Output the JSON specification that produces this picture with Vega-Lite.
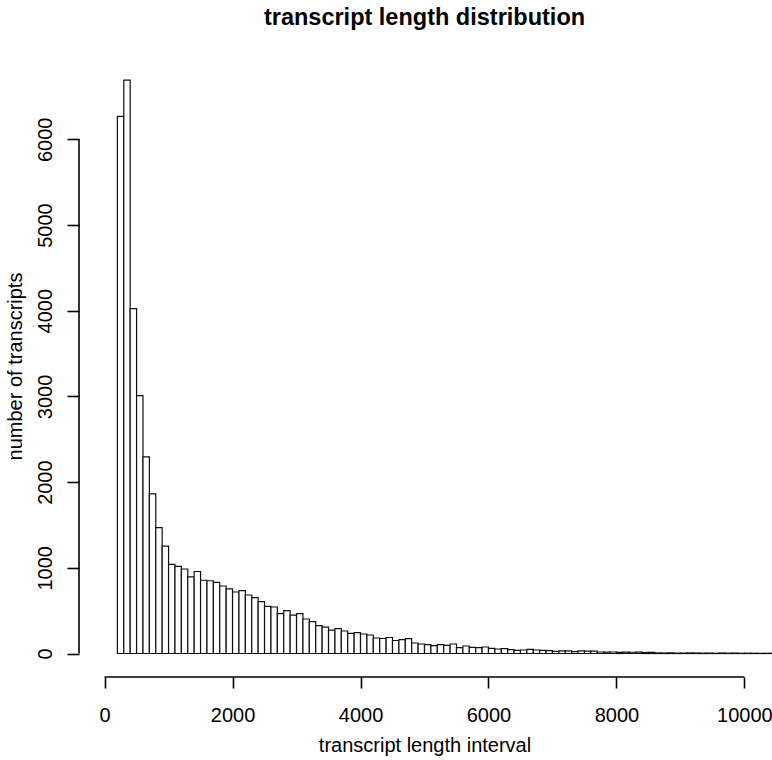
{
  "$schema": "https://vega.github.io/schema/vega-lite/v6.json",
  "autosize": {"type": "none"},
  "padding": {"left": 79, "top": 55, "right": 2, "bottom": 83},
  "width": 691,
  "height": 622,
  "background": "white",
  "config": {"view": {"stroke": null}, "font": "Liberation Sans"},
  "title": {"text": "transcript length distribution", "font": "Liberation Sans", "fontSize": 23.5, "fontWeight": "bold", "color": "black", "anchor": "middle", "frame": "group", "offset": 26},
  "datasets": {
    "bins": [
      {"bin_start": 200, "bin_end": 300, "count": 6267},
      {"bin_start": 300, "bin_end": 400, "count": 6691},
      {"bin_start": 400, "bin_end": 500, "count": 4024},
      {"bin_start": 500, "bin_end": 600, "count": 3010},
      {"bin_start": 600, "bin_end": 700, "count": 2295},
      {"bin_start": 700, "bin_end": 800, "count": 1862},
      {"bin_start": 800, "bin_end": 900, "count": 1469},
      {"bin_start": 900, "bin_end": 1000, "count": 1252},
      {"bin_start": 1000, "bin_end": 1100, "count": 1040},
      {"bin_start": 1100, "bin_end": 1200, "count": 1017},
      {"bin_start": 1200, "bin_end": 1300, "count": 986},
      {"bin_start": 1300, "bin_end": 1400, "count": 895},
      {"bin_start": 1400, "bin_end": 1500, "count": 957},
      {"bin_start": 1500, "bin_end": 1600, "count": 855},
      {"bin_start": 1600, "bin_end": 1700, "count": 849},
      {"bin_start": 1700, "bin_end": 1800, "count": 829},
      {"bin_start": 1800, "bin_end": 1900, "count": 788},
      {"bin_start": 1900, "bin_end": 2000, "count": 755},
      {"bin_start": 2000, "bin_end": 2100, "count": 718},
      {"bin_start": 2100, "bin_end": 2200, "count": 733},
      {"bin_start": 2200, "bin_end": 2300, "count": 683},
      {"bin_start": 2300, "bin_end": 2400, "count": 652},
      {"bin_start": 2400, "bin_end": 2500, "count": 605},
      {"bin_start": 2500, "bin_end": 2600, "count": 551},
      {"bin_start": 2600, "bin_end": 2700, "count": 543},
      {"bin_start": 2700, "bin_end": 2800, "count": 465},
      {"bin_start": 2800, "bin_end": 2900, "count": 500},
      {"bin_start": 2900, "bin_end": 3000, "count": 449},
      {"bin_start": 3000, "bin_end": 3100, "count": 465},
      {"bin_start": 3100, "bin_end": 3200, "count": 403},
      {"bin_start": 3200, "bin_end": 3300, "count": 372},
      {"bin_start": 3300, "bin_end": 3400, "count": 325},
      {"bin_start": 3400, "bin_end": 3500, "count": 309},
      {"bin_start": 3500, "bin_end": 3600, "count": 274},
      {"bin_start": 3600, "bin_end": 3700, "count": 290},
      {"bin_start": 3700, "bin_end": 3800, "count": 263},
      {"bin_start": 3800, "bin_end": 3900, "count": 235},
      {"bin_start": 3900, "bin_end": 4000, "count": 243},
      {"bin_start": 4000, "bin_end": 4100, "count": 228},
      {"bin_start": 4100, "bin_end": 4200, "count": 216},
      {"bin_start": 4200, "bin_end": 4300, "count": 181},
      {"bin_start": 4300, "bin_end": 4400, "count": 175},
      {"bin_start": 4400, "bin_end": 4500, "count": 187},
      {"bin_start": 4500, "bin_end": 4600, "count": 152},
      {"bin_start": 4600, "bin_end": 4700, "count": 161},
      {"bin_start": 4700, "bin_end": 4800, "count": 173},
      {"bin_start": 4800, "bin_end": 4900, "count": 123},
      {"bin_start": 4900, "bin_end": 5000, "count": 111},
      {"bin_start": 5000, "bin_end": 5100, "count": 103},
      {"bin_start": 5100, "bin_end": 5200, "count": 91},
      {"bin_start": 5200, "bin_end": 5300, "count": 103},
      {"bin_start": 5300, "bin_end": 5400, "count": 95},
      {"bin_start": 5400, "bin_end": 5500, "count": 111},
      {"bin_start": 5500, "bin_end": 5600, "count": 68},
      {"bin_start": 5600, "bin_end": 5700, "count": 88},
      {"bin_start": 5700, "bin_end": 5800, "count": 72},
      {"bin_start": 5800, "bin_end": 5900, "count": 68},
      {"bin_start": 5900, "bin_end": 6000, "count": 76},
      {"bin_start": 6000, "bin_end": 6100, "count": 60},
      {"bin_start": 6100, "bin_end": 6200, "count": 53},
      {"bin_start": 6200, "bin_end": 6300, "count": 56},
      {"bin_start": 6300, "bin_end": 6400, "count": 45},
      {"bin_start": 6400, "bin_end": 6500, "count": 37},
      {"bin_start": 6500, "bin_end": 6600, "count": 41},
      {"bin_start": 6600, "bin_end": 6700, "count": 49},
      {"bin_start": 6700, "bin_end": 6800, "count": 41},
      {"bin_start": 6800, "bin_end": 6900, "count": 37},
      {"bin_start": 6900, "bin_end": 7000, "count": 33},
      {"bin_start": 7000, "bin_end": 7100, "count": 25},
      {"bin_start": 7100, "bin_end": 7200, "count": 30},
      {"bin_start": 7200, "bin_end": 7300, "count": 30},
      {"bin_start": 7300, "bin_end": 7400, "count": 22},
      {"bin_start": 7400, "bin_end": 7500, "count": 30},
      {"bin_start": 7500, "bin_end": 7600, "count": 28},
      {"bin_start": 7600, "bin_end": 7700, "count": 27},
      {"bin_start": 7700, "bin_end": 7800, "count": 18},
      {"bin_start": 7800, "bin_end": 7900, "count": 16},
      {"bin_start": 7900, "bin_end": 8000, "count": 18},
      {"bin_start": 8000, "bin_end": 8100, "count": 14},
      {"bin_start": 8100, "bin_end": 8200, "count": 16},
      {"bin_start": 8200, "bin_end": 8300, "count": 15},
      {"bin_start": 8300, "bin_end": 8400, "count": 16},
      {"bin_start": 8400, "bin_end": 8500, "count": 12},
      {"bin_start": 8500, "bin_end": 8600, "count": 14},
      {"bin_start": 8600, "bin_end": 8700, "count": 7},
      {"bin_start": 8700, "bin_end": 8800, "count": 6},
      {"bin_start": 8800, "bin_end": 8900, "count": 8},
      {"bin_start": 8900, "bin_end": 9000, "count": 4},
      {"bin_start": 9000, "bin_end": 9100, "count": 5},
      {"bin_start": 9100, "bin_end": 9200, "count": 7},
      {"bin_start": 9200, "bin_end": 9300, "count": 6},
      {"bin_start": 9300, "bin_end": 9400, "count": 4},
      {"bin_start": 9400, "bin_end": 9500, "count": 5},
      {"bin_start": 9500, "bin_end": 9600, "count": 3},
      {"bin_start": 9600, "bin_end": 9700, "count": 6},
      {"bin_start": 9700, "bin_end": 9800, "count": 4},
      {"bin_start": 9800, "bin_end": 9900, "count": 5},
      {"bin_start": 9900, "bin_end": 10000, "count": 3},
      {"bin_start": 10000, "bin_end": 10100, "count": 4},
      {"bin_start": 10100, "bin_end": 10200, "count": 3},
      {"bin_start": 10200, "bin_end": 10300, "count": 2},
      {"bin_start": 10300, "bin_end": 10400, "count": 3},
      {"bin_start": 10400, "bin_end": 10500, "count": 2}
    ]
  },
  "layer": [
    {
      "data": {"name": "bins"},
      "mark": {"type": "bar", "fill": "white", "stroke": "#111111", "strokeWidth": 1.2, "clip": false},
      "encoding": {
        "x": {
          "field": "bin_start", "type": "quantitative",
          "scale": {"domain": [-400, 10400], "nice": false, "zero": false},
          "axis": {
            "values": [0, 2000, 4000, 6000, 8000, 10000], "format": "d",
            "domain": false, "grid": false,
            "tickSize": 11, "tickWidth": 1.6, "tickColor": "black",
            "labelFont": "Liberation Sans", "labelFontSize": 20, "labelColor": "black",
            "labelPadding": 17, "labelFlush": false, "labelOverlap": false,
            "title": "transcript length interval",
            "titleFont": "Liberation Sans", "titleFontSize": 20, "titleFontWeight": "normal", "titleColor": "black",
            "titlePadding": 10
          }
        },
        "x2": {"field": "bin_end"},
        "y": {
          "field": "count", "type": "quantitative",
          "scale": {"domain": [-274, 6984], "nice": false, "zero": false},
          "axis": {
            "values": [0, 1000, 2000, 3000, 4000, 5000, 6000], "format": "d",
            "domain": false, "grid": false,
            "tickSize": 12, "tickWidth": 1.6, "tickColor": "black",
            "labelFont": "Liberation Sans", "labelFontSize": 20, "labelColor": "black",
            "labelAngle": 270, "labelAlign": "center", "labelBaseline": "alphabetic",
            "labelPadding": 16, "labelFlush": false, "labelOverlap": false,
            "title": "number of transcripts",
            "titleFont": "Liberation Sans", "titleFontSize": 20, "titleFontWeight": "normal", "titleColor": "black",
            "titlePadding": 10
          }
        },
        "y2": {"datum": 0}
      }
    },
    {
      "data": {"values": [{}]},
      "mark": {"type": "rule", "color": "black", "strokeWidth": 1.6},
      "encoding": {
        "x": {"datum": 0, "type": "quantitative"},
        "x2": {"datum": 10000},
        "y": {"datum": -274, "type": "quantitative"}
      }
    },
    {
      "data": {"values": [{}]},
      "mark": {"type": "rule", "color": "black", "strokeWidth": 1.6},
      "encoding": {
        "x": {"datum": -400, "type": "quantitative"},
        "y": {"datum": 0, "type": "quantitative"},
        "y2": {"datum": 6000}
      }
    }
  ]
}
